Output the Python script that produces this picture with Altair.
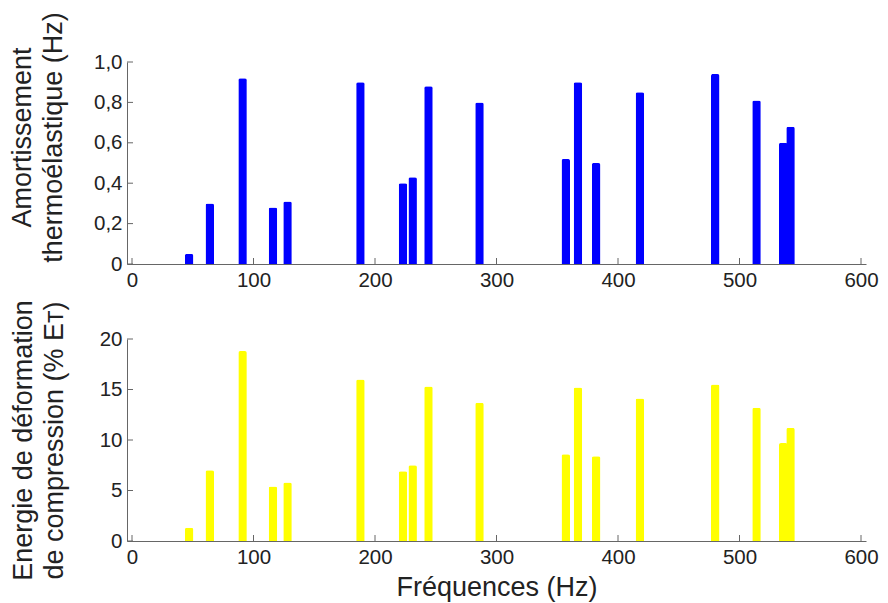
import altair as alt
import pandas as pd

freqs = [47, 64, 91, 116, 128, 188, 223, 231, 244, 286, 357, 367, 382, 418, 480, 514, 536, 542]
damping = [0.05, 0.30, 0.92, 0.28, 0.31, 0.90, 0.40, 0.43, 0.88, 0.80,
           0.52, 0.90, 0.50, 0.85, 0.94, 0.81, 0.60, 0.68]
energy = [1.3, 7.0, 18.8, 5.4, 5.8, 16.0, 6.9, 7.5, 15.3, 13.7,
          8.6, 15.2, 8.4, 14.1, 15.5, 13.2, 9.7, 11.2]
x_ticks = [0, 100, 200, 300, 400, 500, 600]
y1_ticks = [0, 0.2, 0.4, 0.6, 0.8, 1.0]
y2_ticks = [0, 5, 10, 15, 20]

FONT = "Liberation Sans"
W, H = 739, 202
AXC = "#666666"
TFS = 27


def panel(values, color, yticks, ydom, ytitle, label_expr, title_x, title_y, xtitle=None):
    df = pd.DataFrame({"f": freqs, "v": values})
    xscale = alt.Scale(domain=[0, 600], nice=False, zero=False)
    yscale = alt.Scale(domain=ydom, nice=False)
    xkw = dict(values=x_ticks, tickSize=0, labelFontSize=20.5, labelFont=FONT,
               labelColor="#222", domainColor=AXC, labelPadding=6, grid=False)
    if xtitle:
        xkw.update(title=xtitle, titleFont=FONT, titleFontSize=TFS, titleFontWeight="normal",
                   titleColor="#222", titleBaseline="alphabetic", titleY=54)
    else:
        xkw.update(title="")
    xaxis = alt.Axis(**xkw)
    yaxis = alt.Axis(values=yticks, tickSize=0, labelFontSize=20.5, labelFont=FONT,
                     labelColor="#222", domainColor=AXC, labelPadding=5, grid=False,
                     labelExpr=label_expr, title=ytitle, titleFont=FONT, titleFontSize=TFS,
                     titleFontWeight="normal", titleColor="#222",
                     titleAngle=270, titleAlign="center", titleBaseline="alphabetic",
                     titleX=title_x, titleY=title_y, titleLineHeight=31)
    bars = alt.Chart(df).mark_bar(size=8.5, color=color, cornerRadiusTopLeft=2,
                                  cornerRadiusTopRight=2).encode(
        x=alt.X("f:Q", scale=xscale, axis=xaxis),
        y=alt.Y("v:Q", scale=yscale, axis=yaxis),
    )
    xt = alt.Chart(pd.DataFrame({"t": x_ticks})).mark_rule(color=AXC, strokeWidth=1).encode(
        x=alt.X("t:Q", scale=xscale, axis=xaxis),
        y=alt.value(H), y2=alt.value(H - 6))
    yt = alt.Chart(pd.DataFrame({"t": yticks})).mark_rule(color=AXC, strokeWidth=1).encode(
        y=alt.Y("t:Q", scale=yscale, axis=yaxis),
        x=alt.value(0), x2=alt.value(6))
    return alt.layer(bars, xt, yt).properties(width=W, height=H)


top = panel(damping, "#0000FF", y1_ticks, [0, 1.0],
            ["Amortissement", "thermoélastique (Hz)"],
            "datum.value == 0 ? '0' : replace(format(datum.value, '.1f'), '.', ',')",
            -97, 75)
bottom = panel(energy, "#FFFF00", y2_ticks, [0, 20],
               ["Energie de déformation", "de compression (% Eᴛ)"],
               "format(datum.value, 'd')", -96, 101, xtitle="Fréquences (Hz)")

chart = alt.vconcat(top, bottom, spacing=75, bounds="flush").properties(
    padding={"left": 8, "top": 11, "right": 5, "bottom": 5}
).configure(background="white", view=alt.ViewConfig(stroke=None))

chart.save("out.html", embed_options={"renderer": "svg", "actions": False})
